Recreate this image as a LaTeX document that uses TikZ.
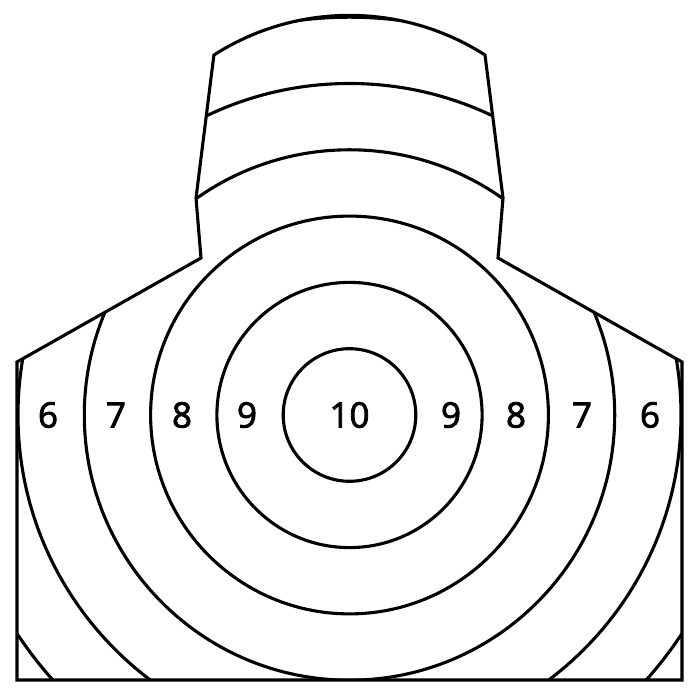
\documentclass[tikz,border=0pt]{standalone}
\usepackage{fontspec}
\setmainfont{Open Sans}
\newfontfamily\cifras{Open Sans}[FakeBold=2.5]
\newcommand{\contorno}{(17,20) -- (682,20) -- (682,338) -- (498,442) -- (503,502) -- (485,645)
  arc[start angle=57.4,end angle=122.6,radius=251.6pt] -- (196,502) -- (201,442) -- (17,338) -- cycle}
\tikzset{
  anillo/.style={line width=3.1pt},
  cifra/.style={font=\cifras\fontsize{35}{40}\selectfont,inner sep=0pt}
}

\begin{document}
\begin{tikzpicture}[x=1pt,y=1pt]
\useasboundingbox (0,0) rectangle (700,700);
\coordinate (centro) at (349.5,285);
% anillos recortados por la silueta
\begin{scope}
  \clip \contorno;
  \foreach \r in {1,...,6}
    \draw[anillo] (centro) circle[radius=66.3pt*\r];
\end{scope}
\draw[anillo,line join=miter] \contorno;
% puntuaciones
\node[cifra] (diez) at (centro) {10};
\foreach \x/\n/\nom in {48/6/seisI,116/7/sieteI,182/8/ochoI,247/9/nueveI,
                        451/9/nueveD,516/8/ochoD,582/7/sieteD,650/6/seisD}
  \node[cifra] (\nom) at (\x,285) {\n};
\end{tikzpicture}
\end{document}
